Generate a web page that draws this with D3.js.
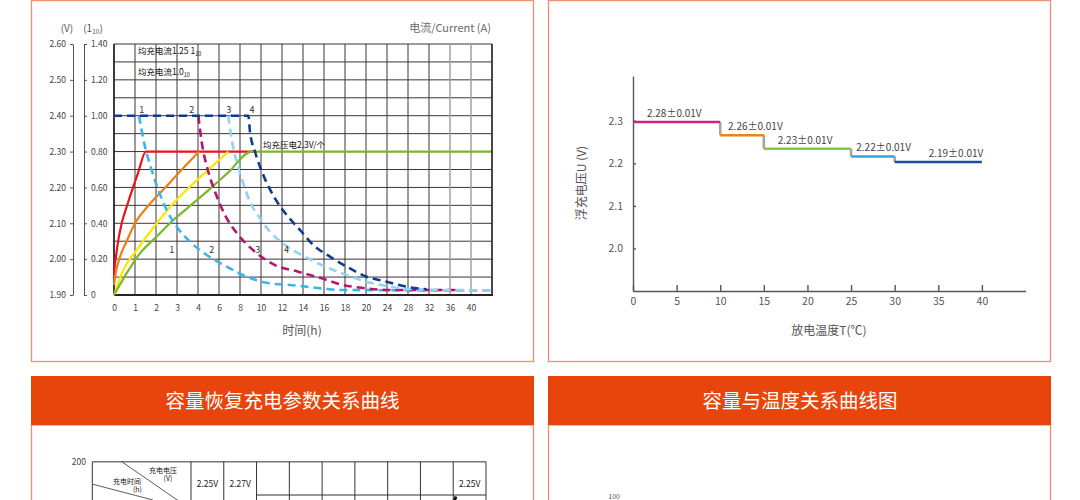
<!DOCTYPE html>
<html><head><meta charset="utf-8">
<script src="https://cdn.jsdelivr.net/npm/d3@7"></script>
<style>
body{margin:0;background:#fff;}
svg{display:block;font-family:"Noto Sans CJK SC","Noto Sans",sans-serif;}
</style>
</head><body>
<svg id="c" width="1080" height="500"></svg>
<script>
// ================= DATA =================
// Chart 1 : charging curves (time in h, voltage V per cell, current in I10)
const timeTicks = [0,1,2,3,4,6,8,10,12,14,16,18,20,24,28,32,36,40];
const timeGridEnd = 44;
const voltTicks = [1.90,2.00,2.10,2.20,2.30,2.40,2.50,2.60];
const currentTicks = [0,0.2,0.4,0.6,0.8,1.0,1.2,1.4];

const voltRed    = [[0,1.942],[0.02,1.970],[0.095,2.007],[0.205,2.053],[0.367,2.100],[0.605,2.146],[0.919,2.202],[1.143,2.240],[1.52,2.30],[9.4,2.30]];
const voltOrange = [[0,1.928],[0.048,1.949],[0.252,2.00],[0.605,2.050],[1.0,2.100],[1.633,2.149],[2.43,2.199],[3.22,2.249],[4.1,2.30]];
const voltYellow = [[0,1.90],[0.443,1.970],[1.081,2.025],[2.033,2.100],[2.824,2.156],[3.62,2.202],[4.98,2.249],[6.89,2.30]];
const voltGreen  = [[0,1.90],[0.605,1.961],[1.238,2.016],[2.033,2.063],[2.824,2.109],[3.776,2.156],[5.14,2.196],[6.89,2.242],[9.11,2.30],[43.8,2.30]];

const currentBlue4   = [[0,1.0],[8.79,1.0],[8.95,0.911],[9.43,0.799],[10.22,0.669],[11.33,0.539],[12.45,0.446],[13.71,0.363],[14.98,0.279],[16.57,0.214],[18.17,0.158],[20.13,0.102],[23.94,0.074],[27.76,0.046],[31.56,0.032]];
const currentCyan1   = [[1.19,1.0],[1.476,0.827],[1.795,0.697],[2.11,0.586],[2.51,0.474],[2.986,0.381],[3.62,0.297],[4.83,0.223],[6.73,0.158],[8.64,0.102],[10.86,0.065],[12.76,0.056],[15.78,0.037],[17.68,0.028],[43.9,0.025]];
const currentMagenta2= [[4.03,1.0],[4.35,0.855],[4.98,0.688],[5.62,0.576],[6.57,0.446],[7.84,0.335],[9.43,0.241],[11.33,0.167],[13.55,0.130],[15.78,0.093],[17.8,0.056],[19.71,0.039],[24.57,0.028],[38.2,0.028]];
const currentSky3    = [[6.89,1.0],[7.14,0.892],[7.52,0.781],[8.16,0.651],[8.95,0.520],[9.9,0.428],[10.86,0.353],[12.29,0.279],[13.88,0.223],[15.78,0.167],[17.68,0.121],[20.19,0.073],[24.57,0.046],[27.81,0.033],[43.9,0.025]];

const curveTopLabels    = ["1","2","3","4"];
const curveTopLabelTime = [1.32,3.7,6.92,9.14];
const curveBotLabelTime = [2.75,5.3,9.69,12.44];

// Chart 2 : float voltage vs temperature
const tempTicks = [0,5,10,15,20,25,30,35,40];
const floatVoltTicks = [2.0,2.1,2.2,2.3];
const tempBreaks = [0,10,15,25,30,40];
const floatVoltage = [2.297,2.266,2.234,2.216,2.203];
const floatLabels = ["2.28±0.01V","2.26±0.01V","2.23±0.01V","2.22±0.01V","2.19±0.01V"];
const floatLabelTemp = [1.6,10.9,16.6,25.6,33.9];

// Chart 3 : capacity recovery table (partially visible)
const recoveryVoltCols = ["2.25V","2.27V","","","","","","","2.25V"];
const recoveryYTicks = [200];

// Chart 4 : capacity vs temperature (only a fragment visible)
const capTempYTicks = [100];

// ================= DRAW =================
const svg = d3.select("#c");
const FONT = '"Noto Sans CJK SC","Noto Sans",sans-serif';

// ---- panels ----
const panelStroke = "#f09070";
svg.append("rect").attr("x",31.5).attr("y",0.5).attr("width",502).attr("height",361).attr("fill","#fff").attr("stroke",panelStroke).attr("stroke-width",1.3);
svg.append("rect").attr("x",548.5).attr("y",0.5).attr("width",502).attr("height",361).attr("fill","#fff").attr("stroke",panelStroke).attr("stroke-width",1.3);
[[31.5,"容量恢复充电参数关系曲线",282.5],[548.5,"容量与温度关系曲线图",800]].forEach(([x,t,cx])=>{
  svg.append("rect").attr("x",x).attr("y",425).attr("width",502).attr("height",120).attr("fill","#fff").attr("stroke",panelStroke).attr("stroke-width",1.3);
  svg.append("rect").attr("x",x-0.5).attr("y",376).attr("width",503).attr("height",49).attr("fill","#e8450c");
  svg.append("text").attr("x",cx).attr("y",408).attr("text-anchor","middle").attr("fill","#fff")
    .attr("font-size",19.5).text(t);
});

// ================= Chart 1 =================
const g1 = svg.append("g");
const gridTimes = timeTicks.concat([timeGridEnd]);
const L = 114, R = 492, T = 44, B = 295;
const step = (R-L)/(gridTimes.length-1);
const xL = d3.scaleLinear().domain(gridTimes).range(gridTimes.map((d,i)=>L+i*step));
const yV = d3.scaleLinear().domain([1.9,2.6]).range([B,T]);
const yA = d3.scaleLinear().domain([0,1.4]).range([B,T]);

// grid
const hGrid = d3.range(0,15).map(i=>1.9+i*0.05);
g1.selectAll(".hg").data(hGrid).join("line")
  .attr("x1",L).attr("x2",R).attr("y1",d=>yV(d)).attr("y2",d=>yV(d))
  .attr("stroke","#3c3434").attr("stroke-width",1);
g1.selectAll(".vg").data(gridTimes).join("line")
  .attr("x1",d=>xL(d)).attr("x2",d=>xL(d)).attr("y1",T).attr("y2",B)
  .attr("stroke",d=>(d===36||d===40)?"#a0a0a0":"#3c3434").attr("stroke-width",d=>(d===36||d===40)?1.5:1);
g1.append("line").attr("x1",L).attr("x2",R+1).attr("y1",B).attr("y2",B).attr("stroke","#2a2222").attr("stroke-width",2);
g1.append("line").attr("x1",L).attr("x2",L).attr("y1",T).attr("y2",B).attr("stroke","#2a2222").attr("stroke-width",1.6);
g1.append("line").attr("x1",R).attr("x2",R).attr("y1",T).attr("y2",B).attr("stroke","#3a3232").attr("stroke-width",1.6);

// axes
const axV = g1.append("g").attr("transform","translate(73,0)")
  .call(d3.axisLeft(yV).tickValues(voltTicks).tickFormat(d3.format(".2f")).tickSizeInner(3).tickSizeOuter(0).tickPadding(4));
const axA = g1.append("g").attr("transform","translate(84,0)")
  .call(d3.axisRight(yA).tickValues(currentTicks).tickFormat(d=>d===0?"0":d3.format(".2f")(d)).tickSizeInner(3).tickSizeOuter(0).tickPadding(4));
const axT = g1.append("g").attr("transform",`translate(0,${B})`)
  .call(d3.axisBottom(xL).tickValues(timeTicks).tickFormat(d=>d).tickSize(0).tickPadding(10));
axT.select(".domain").remove();
[axV,axA,axT].forEach(a=>{
  a.selectAll("text").attr("font-family",FONT).attr("font-size",8.5).attr("fill","#444");
  a.selectAll("path,line").attr("stroke","#555");
});

// titles
g1.append("text").attr("x",67).attr("y",32).attr("text-anchor","middle").attr("font-size",10).attr("fill","#555").text("(V)");
const t1 = g1.append("text").attr("x",93).attr("y",32).attr("text-anchor","middle").attr("font-size",10).attr("fill","#555");
t1.append("tspan").text("(1");
t1.append("tspan").attr("font-size",6.5).attr("dy",2).text("10");
t1.append("tspan").attr("dy",-2).text(")");
g1.append("text").attr("x",491).attr("y",32).attr("text-anchor","end").attr("font-size",11).attr("fill","#6a6a6a").text("电流/Current (A)");
g1.append("text").attr("x",302).attr("y",335).attr("text-anchor","middle").attr("font-size",12).attr("fill","#555").text("时间(h)");

// annotations
const a1 = g1.append("text").attr("x",138).attr("y",54).attr("font-size",8.5).attr("fill","#111");
a1.append("tspan").text("均充电流1.25 1");
a1.append("tspan").attr("font-size",5.5).attr("dy",1.5).text("10");
const a2 = g1.append("text").attr("x",138).attr("y",74.5).attr("font-size",8.5).attr("fill","#111");
a2.append("tspan").text("均充电流1.0");
a2.append("tspan").attr("font-size",5.5).attr("dy",2).text("10");
g1.append("text").attr("x",263).attr("y",148).attr("font-size",8.5).attr("fill","#111").text("均充压电2.3V/个");

// curves
const lineV = d3.line().x(d=>xL(d[0])).y(d=>yV(d[1])).curve(d3.curveMonotoneX);
const lineA = d3.line().x(d=>xL(d[0])).y(d=>yA(d[1])).curve(d3.curveMonotoneX);
[[voltRed,"#e8161c"],[voltOrange,"#f07f12"],[voltYellow,"#ffe600"],[voltGreen,"#7ab829"]].forEach(([d,c])=>{
  g1.append("path").attr("d",lineV(d)).attr("fill","none").attr("stroke",c).attr("stroke-width",2.2);
});
[[currentCyan1,"#3bb6ea"],[currentMagenta2,"#b3166c"],[currentSky3,"#92d2f3"],[currentBlue4,"#0e3d90"]].forEach(([d,c])=>{
  g1.append("path").attr("d",lineA(d)).attr("fill","none").attr("stroke",c).attr("stroke-width",2.6).attr("stroke-dasharray","8,5");
});
curveTopLabels.forEach((t,i)=>{
  g1.append("text").attr("x",xL(curveTopLabelTime[i])).attr("y",yA(1.0)-3).attr("text-anchor","middle").attr("font-size",9).attr("fill","#333").text(t);
  g1.append("text").attr("x",xL(curveBotLabelTime[i])).attr("y",yA(0.237)).attr("text-anchor","middle").attr("font-size",9).attr("fill","#333").text(t);
});

// ================= Chart 2 =================
const g2 = svg.append("g");
const xT = d3.scaleLinear().domain([0,45]).range([633,1025.5]);
const yF = d3.scaleLinear().domain([1.9,2.405]).range([291,76]);
const ax2y = g2.append("g").attr("transform","translate(633,0)")
  .call(d3.axisLeft(yF).tickValues(floatVoltTicks).tickFormat(d3.format(".1f")).tickSizeInner(-3).tickSizeOuter(0).tickPadding(10));
const ax2x = g2.append("g").attr("transform","translate(0,291)")
  .call(d3.axisBottom(xT).tickValues(tempTicks).tickSizeInner(-6).tickSizeOuter(0).tickPadding(7));
[ax2x,ax2y].forEach(a=>{
  a.selectAll("text").attr("font-family",FONT).attr("font-size",10.5).attr("fill","#555");
  a.selectAll("path,line").attr("stroke","#555").attr("stroke-width",1.4);
});
const segColors = ["#d3207f","#f0801a","#8cc63f","#27a9e1","#1b4c9e"];
floatVoltage.slice(0,-1).forEach((v,i)=>{
  g2.append("line").attr("x1",xT(tempBreaks[i+1])).attr("x2",xT(tempBreaks[i+1]))
    .attr("y1",yF(v)).attr("y2",yF(floatVoltage[i+1])).attr("stroke","#a3a3a3").attr("stroke-width",2.5);
});
floatVoltage.forEach((v,i)=>{
  g2.append("line").attr("x1",xT(tempBreaks[i])).attr("x2",xT(tempBreaks[i+1]))
    .attr("y1",yF(v)).attr("y2",yF(v)).attr("stroke",segColors[i]).attr("stroke-width",2.6);
  g2.append("text").attr("x",xT(floatLabelTemp[i])).attr("y",yF(v)-5).attr("font-size",10).attr("fill","#444").text(floatLabels[i]);
});
g2.append("text").attr("transform","translate(586,183) rotate(-90)").attr("text-anchor","middle").attr("font-size",12).attr("fill","#555").text("浮充电压U (V)");
g2.append("text").attr("x",829).attr("y",335).attr("text-anchor","middle").attr("font-size",12).attr("fill","#555").text("放电温度T(℃)");

// ================= Chart 3 (partial) =================
const g3 = svg.append("g");
const colX = d3.scaleLinear().domain([0,9]).range([191,486]);
const yR = d3.scaleLinear().domain([0,200]).range([760,461.7]);
g3.append("line").attr("x1",92.3).attr("x2",486).attr("y1",yR(200)).attr("y2",yR(200)).attr("stroke","#777").attr("stroke-width",1.6);
g3.append("line").attr("x1",92.3).attr("x2",92.3).attr("y1",yR(200)).attr("y2",500).attr("stroke","#333").attr("stroke-width",1);
g3.selectAll(".cv").data(d3.range(0,10)).join("line")
  .attr("x1",d=>colX(d)).attr("x2",d=>colX(d)).attr("y1",yR(200)).attr("y2",500)
  .attr("stroke","#333").attr("stroke-width",1);
g3.append("line").attr("x1",colX(2)).attr("x2",colX(9)).attr("y1",495).attr("y2",495).attr("stroke","#333").attr("stroke-width",1);
g3.append("line").attr("x1",121.7).attr("y1",yR(200)).attr("x2",178).attr("y2",500.5).attr("stroke","#333").attr("stroke-width",0.8);
g3.append("line").attr("x1",93).attr("y1",484.3).attr("x2",153).attr("y2",500).attr("stroke","#333").attr("stroke-width",0.8);
g3.append("text").attr("x",163).attr("y",473).attr("text-anchor","middle").attr("font-size",7).attr("fill","#222").text("充电电压");
g3.append("text").attr("x",168).attr("y",481).attr("text-anchor","middle").attr("font-size",7).attr("fill","#222").text("(V)");
g3.append("text").attr("x",127).attr("y",484).attr("text-anchor","middle").attr("font-size",7).attr("fill","#222").text("充电时间");
g3.append("text").attr("x",137.5).attr("y",492).attr("text-anchor","middle").attr("font-size",7).attr("fill","#222").text("(h)");
recoveryVoltCols.forEach((t,i)=>{
  if(t) g3.append("text").attr("x",(colX(i)+colX(i+1))/2).attr("y",486.5).attr("text-anchor","middle").attr("font-size",8.5).attr("fill","#222").text(t);
});
recoveryYTicks.forEach(v=>{
  g3.append("text").attr("x",86).attr("y",yR(v)+3).attr("text-anchor","end").attr("font-size",8.5).attr("fill","#444").text(v);
});
g3.append("path").attr("d","M456,496.5 L454.5,500.5").attr("stroke","#111").attr("stroke-width",3);

// ================= Chart 4 (fragment) =================
capTempYTicks.forEach(v=>{
  svg.append("text").attr("x",620).attr("y",499).attr("text-anchor","end").attr("font-size",7).attr("fill","#555").text(v);
});
</script>
</body></html>
